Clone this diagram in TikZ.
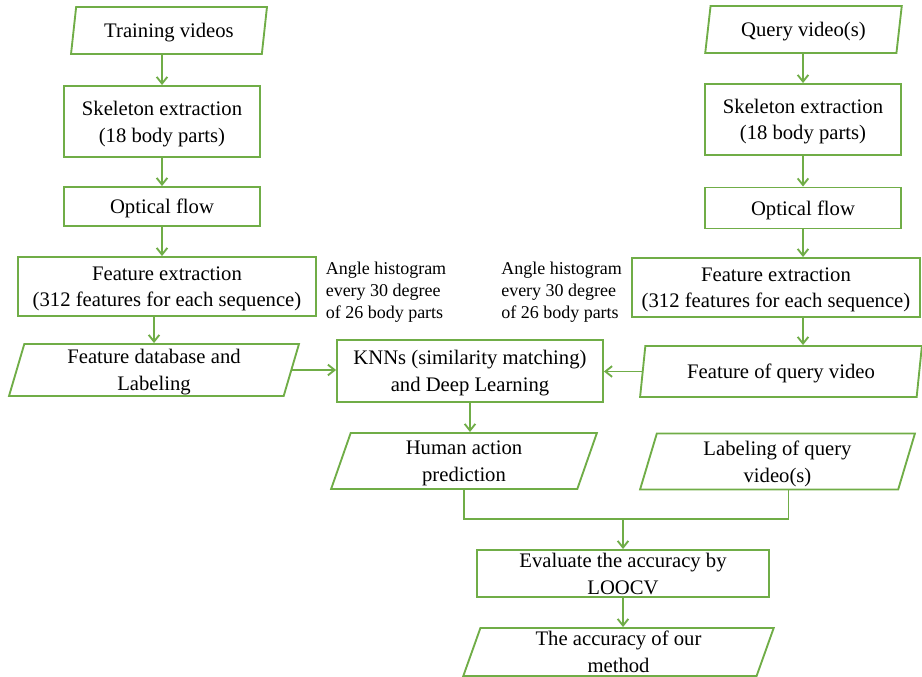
\documentclass[tikz,border=0pt]{standalone}
\usepackage{fontspec}
\setmainfont{Liberation Serif}
\usetikzlibrary{shapes.geometric,arrows.meta,calc}
\definecolor{flowgreen}{RGB}{112,173,71}

\tikzset{
  box/.style={draw=flowgreen, line width=1.4pt, rectangle, align=center, inner sep=0pt,
    text depth=0pt, font=\fontsize{15.5}{20}\selectfont},
  io/.style={draw=flowgreen, line width=1.4pt, trapezium, trapezium left angle=76,
    trapezium right angle=104, trapezium stretches=true, align=center, inner sep=0pt,
    text depth=0pt, font=\fontsize{15.5}{20}\selectfont},
  note/.style={align=left, inner sep=0pt, font=\fontsize{13.5}{16.5}\selectfont},
  arr/.style={draw=flowgreen, line width=1.4pt, -{Straight Barb[length=5pt,width=8pt]}},
  link/.style={draw=flowgreen, line width=1.4pt}
}

\begin{document}
\begin{tikzpicture}[x=0.75pt,y=-0.75pt]
    \useasboundingbox (0,0) rectangle (922,677);
    % training side
    \node[io, minimum width=147pt, minimum height=35.25pt] (tv) at (169,30.5) {Training videos};
    \node[box, minimum width=147pt, minimum height=53.25pt] (seL) at (162,121.5) {Skeleton extraction\\(18 body parts)};
    \node[box, minimum width=147pt, minimum height=29.25pt] (ofL) at (162,206.5) {Optical flow};
    \node[box, minimum width=223.5pt, minimum height=44.25pt] (feL) at (167,286.5) {Feature extraction\\(312 features for each sequence)};
    \node[io, minimum width=217.5pt, minimum height=39pt] (fdb) at (154,370) {Feature database and\\Labeling};
    % query side
    \node[io, minimum width=147.75pt, minimum height=35.25pt] (qv) at (803.5,29.5) {Query video(s)};
    \node[box, minimum width=147pt, minimum height=53.25pt] (seR) at (803,119.5) {Skeleton extraction\\(18 body parts)};
    \node[box, minimum width=147pt, minimum height=30.75pt] (ofR) at (803,208) {Optical flow};
    \node[box, minimum width=216pt, minimum height=44.25pt] (feR) at (776,287.5) {Feature extraction\\(312 features for each sequence)};
    \node[io, minimum width=211.5pt, minimum height=38.25pt] (fqv) at (781,371.5) {Feature of query video};
    % notes
    \node[note] (angL) at (386,292) {Angle histogram\\every 30 degree\\of 26 body parts};
    \node[note] (angR) at (561.5,292) {Angle histogram\\every 30 degree\\of 26 body parts};
    % middle
    \node[box, minimum width=199.5pt, minimum height=46.5pt] (knn) at (470,371) {KNNs (similarity matching)\\and Deep Learning};
    \node[io, minimum width=199.5pt, minimum height=42pt] (hap) at (464,461) {Human action\\prediction};
    \node[io, minimum width=206.25pt, minimum height=42pt] (lqv) at (777.5,461.5) {Labeling of query\\video(s)};
    \coordinate (join) at (623,519);
    \node[box, minimum width=219pt, minimum height=35.25pt] (eval) at (623,573.5) {Evaluate the accuracy by\\LOOCV};
    \node[io, minimum width=233.25pt, minimum height=36pt] (acc) at (618.5,652) {The accuracy of our\\method};
    % arrows
    \draw[arr] (seL.north |- tv.south) -- (seL.north);
    \draw[arr] (seL) -- (ofL);
    \draw[arr] (ofL.south) -- (ofL.south |- feL.north);
    \draw[arr] (fdb.north |- feL.south) -- (fdb.north);
    \draw[arr] (seR.north |- qv.south) -- (seR.north);
    \draw[arr] (seR) -- (ofR);
    \draw[arr] (ofR.south) -- (ofR.south |- feR.north);
    \draw[arr] (ofR.south |- feR.south) -- (ofR.south |- fqv.north);
    \draw[arr] (fdb.east) -- (fdb.east -| knn.west);
    \draw[arr] (fqv.west) -- (fqv.west -| knn.east);
    \draw[arr] (knn.south) -- (knn.south |- hap.north);
    \draw[link] (hap.south) |- (join) -| ([xshift=8.25pt]lqv.south);
    \draw[arr] (join) -- (eval.north);
    \draw[arr] (eval.south) -- (eval.south |- acc.north);
\end{tikzpicture}
\end{document}
